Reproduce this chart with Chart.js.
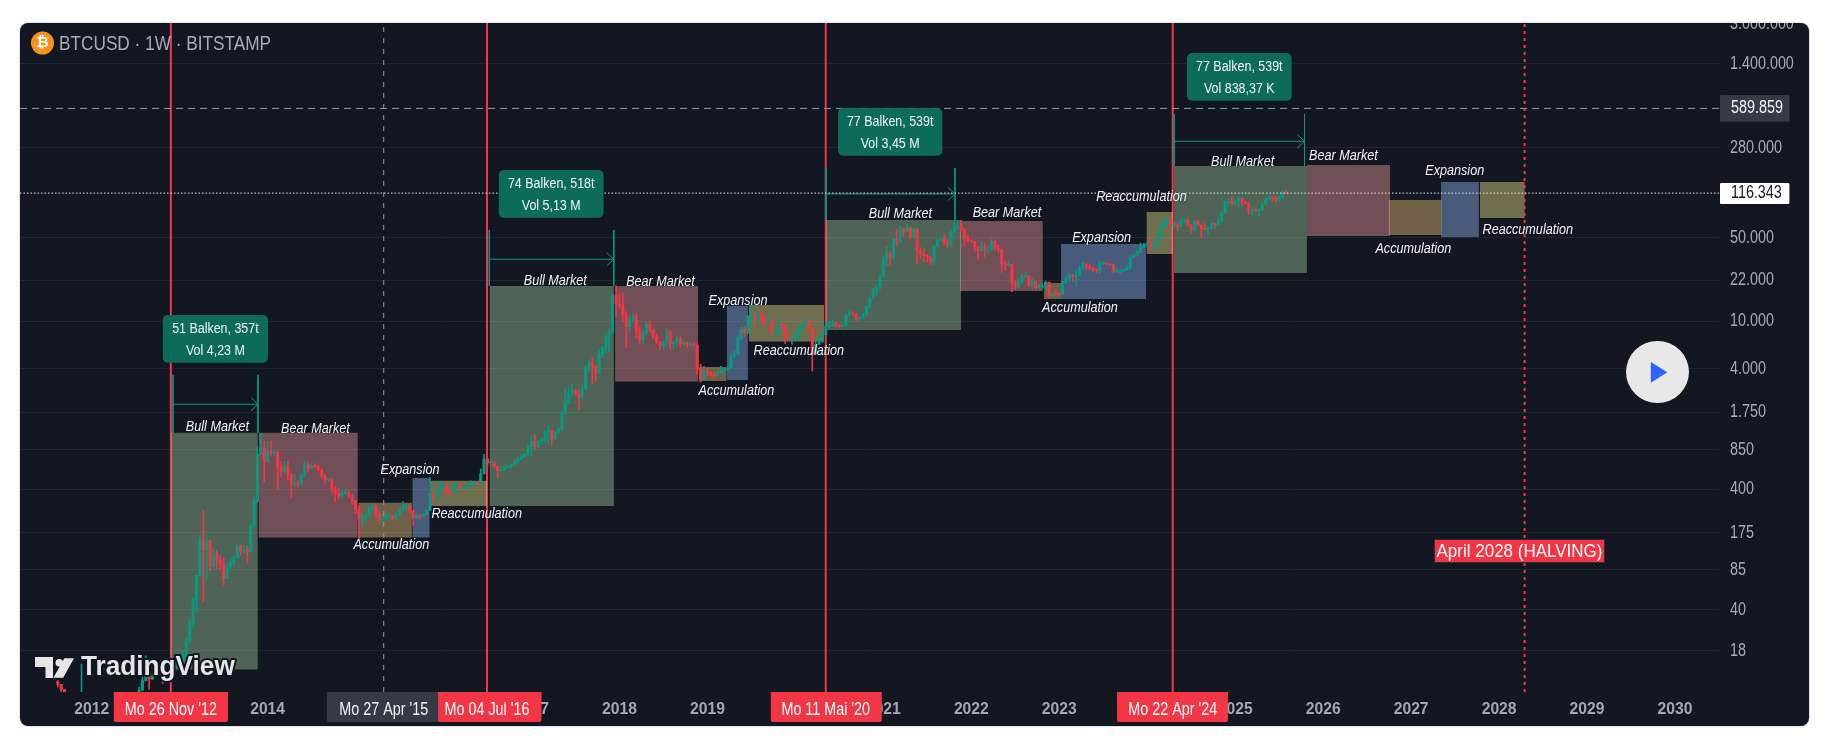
<!DOCTYPE html>
<html>
<head>
<meta charset="utf-8">
<title>BTCUSD 1W</title>
<style>
  html, body { margin: 0; padding: 0; background: #fff; }
  #wrap { position: relative; width: 1830px; height: 742px; }
</style>
<script src="https://cdn.jsdelivr.net/npm/chart.js@4/dist/chart.umd.min.js"></script>
</head>
<body>
<div id="wrap"><canvas id="c" width="1830" height="742"></canvas></div>
<script>
// Axis
var yearTicks = [2012,2013,2014,2015,2016,2017,2018,2019,2020,2021,2022,2023,2024,2025,2026,2027,2028,2029,2030];
var priceTicks = [3000000,1400000,280000,50000,22000,10000,4000,1750,850,400,175,85,40,18];
var xMin = 2011.185, xMax = 2030.5, yMin = 8.2, yMax = 3030000;

// Candles, two-week bars. One line per year.
var candleStart = 2011.615, candleStep = 1 / 26, candleFirstOpen = 10;
var candleClose = [
  9.5,8.6,7,7,7,7,7,7.4,7,7,
  6.8,6.4,5.9,4.8,5.0,5.0,4.9,5.0,5.1,5.0,5.1,5.5,6.4,6.7,8.5,10.2,12.2,10.5,11.2,12.3,11.8,10.9,10.9,12,12.8,13.4,
  14,17,22,30,48,76,150,125,148,92,112,102,94,72,90,97,107,135,122,125,120,198,320,780,880,680,
  820,800,810,600,560,620,530,440,450,440,520,640,600,630,620,580,510,480,480,400,370,350,370,375,350,320,
  270,225,235,235,270,290,250,225,225,240,240,225,245,270,285,290,265,230,240,235,245,265,370,330,395,430,
  430,385,375,435,440,415,415,425,455,455,445,535,715,660,665,620,570,575,610,610,640,660,715,745,775,900,
  1000,900,1010,1010,1190,1240,1040,1190,1260,1700,2060,2500,2620,2500,2300,2750,4100,4500,4200,3700,5400,6000,7400,8000,16500,14000,
  13500,11500,9000,10300,11000,8300,7000,8000,9300,8500,7400,6700,6200,6700,8200,6500,6700,7000,6500,6600,6300,6400,6300,4000,3300,3800,
  3700,3600,3500,3700,3850,3900,4100,5100,5300,7200,8600,8000,10800,11000,10500,11500,10300,9600,10300,8000,8200,9500,9200,7300,7200,7200,
  7200,8700,9300,10200,8700,5300,6400,6900,7700,9000,9200,9700,9300,9100,9200,11200,11800,11500,10400,10700,11300,13000,15500,18700,19200,23500,
  33000,36000,33500,48000,46000,58000,55000,60000,50000,58000,38000,36000,35000,34000,31000,42000,47500,49000,45000,43000,55000,61000,62000,58000,49000,47000,
  46000,42000,38500,42000,39000,39000,46000,40500,39500,30000,29500,29800,21000,19300,21500,23300,24000,20000,21500,19000,19200,19500,21000,16300,16900,16800,
  16600,20800,23000,24000,23500,24000,27500,30000,28800,27600,26800,26500,30300,30500,29800,29400,26000,26000,26000,26500,27800,34000,35000,37500,42000,43500,
  44000,41500,43000,50000,62000,68000,69500,63000,63500,61000,68000,69000,63000,57000,67500,63000,59000,58000,60000,65000,63000,68000,80000,97000,100000,94000,
  98000,104000,97000,96000,84000,84000,83000,84000,94000,103000,108000,105000,102000,108000,118000,116343
];
var candleHigh = [
  10.2,8.9,7.5,7.5,7.5,7.5,7.5,14,7.5,7.5,
  7.4,7.0,6.5,6.0,5.2,5.4,5.3,5.4,5.2,5.2,5.3,5.7,6.7,7.2,9,10.9,16.4,12.2,11.6,12.6,12.5,11.9,11,12.6,13.2,13.8,
  14.3,18,23,33,50,78,167,266,160,150,125,125,112,108,98,106,112,140,137,135,135,205,340,900,1163,1000,
  1000,1010,860,830,680,680,680,540,530,470,540,680,680,660,650,630,590,530,490,490,420,410,400,400,390,360,
  320,290,250,250,290,300,300,260,245,250,245,240,250,280,315,300,280,265,250,245,250,270,500,390,400,460,
  465,460,395,445,450,450,420,430,470,465,455,590,780,700,700,680,610,615,620,625,645,720,745,780,790,940,
  1100,1150,1020,1060,1230,1350,1200,1210,1280,1800,2700,2800,3000,2700,2700,2900,4300,4700,5000,4300,5800,6200,7700,8500,17000,19666,
  17000,17200,12000,11000,11700,11700,9000,8500,9900,10000,8600,7800,6800,6800,8500,8400,6800,7400,7400,6800,6700,6600,6600,6500,4400,4200,
  4100,3800,3700,3800,4200,4050,4200,5400,5650,7500,9000,9000,11200,13800,11500,12100,12300,10900,10900,10400,8500,10300,9500,9200,7700,7500,
  7700,9000,9600,10500,10000,8900,6950,7400,7900,10000,9900,10300,9800,9450,9500,11500,12400,12000,10900,10900,11700,13300,15900,18900,19800,24300,
  34700,41900,38500,49000,58000,61700,60000,64800,57000,59500,59000,41000,40000,36000,34500,42500,48000,50500,52900,48000,56500,66900,67800,69000,59000,52000,
  48000,44500,39000,45800,44500,42500,48200,47200,43000,40000,32000,32000,30000,21800,22500,24700,25200,21800,22700,20000,20500,20800,21500,21300,17400,18300,
  16900,21500,23800,25200,24500,26500,28800,30900,30000,29800,28400,27400,31400,31500,30400,30100,29700,28100,26800,27400,28500,35200,35900,38400,44700,44400,
  45800,48900,44000,52500,64000,73800,71500,72800,67000,65500,71900,72000,71000,63500,68300,70000,62000,65000,61000,66500,65000,73600,81500,99800,104000,108000,
  102500,110000,106500,99500,96000,91000,88500,86000,95500,105000,112000,110500,108500,110500,123000,123200
];
var candleLow = [
  9,8.3,6.8,6.8,6.8,6.8,6.8,7,6.8,6.8,
  6.3,6.0,5.5,4.4,4.7,4.8,4.7,4.8,4.9,4.8,5,5.1,5.4,6.3,6.6,8.4,10.2,8.6,10.4,11,11.3,9.6,10.5,10.8,12.1,12.7,
  13,13.8,16,21,28,38,75,46,70,84,88,87,85,64,72,88,95,106,112,118,97,120,190,310,780,460,
  680,760,760,400,510,540,480,340,420,420,430,510,550,590,600,570,490,440,460,370,310,330,335,360,340,300,
  250,155,195,210,235,265,235,215,210,225,230,220,222,240,265,265,255,200,225,225,235,245,270,310,320,390,
  420,355,360,370,415,405,400,410,420,440,435,445,535,610,640,600,500,560,570,600,600,630,680,710,735,760,
  750,870,890,960,1000,950,930,1040,1170,1240,1700,2100,2350,2400,1830,2200,2700,3800,3000,3200,3600,5000,5500,5500,8000,10800,
  12800,10000,6000,8100,9800,7300,6400,6500,7800,8100,7100,6500,5800,5800,6300,5900,5900,6300,6100,6300,6000,6200,6200,3600,3100,3200,
  3500,3500,3350,3600,3700,3700,3850,4050,5000,5300,7000,7400,7900,9600,9200,9100,9500,9300,9500,7700,7700,7300,8500,6500,7000,6400,
  6900,7100,8300,9200,8500,3850,5900,6400,6600,7700,8700,9000,8900,8900,9000,9100,11000,11100,10000,10200,10600,11200,13000,15200,16200,18300,
  23500,28900,29200,32500,43000,44900,50400,55500,47000,48000,30000,33000,31000,31000,29300,29500,42800,46500,43000,40700,41500,55000,58000,55700,42000,45500,
  45500,38000,33000,38000,34500,37000,38500,39000,37500,25400,26500,28500,17600,18600,18900,20700,23000,19500,18500,18200,18200,18700,18000,15500,15900,16300,
  16300,16500,20500,21500,21500,19500,26600,27800,27000,26800,25800,25300,25000,29700,29500,28900,25300,25400,24900,26000,26600,26800,33900,34800,37600,40500,
  41500,38500,38500,42500,50500,60800,61500,60800,59600,56500,60800,66500,62000,53500,56000,62300,49000,57500,52500,58500,58900,62500,66800,80000,90500,92200,
  91500,89000,91000,93500,78200,76600,81500,74500,83200,93500,102500,100500,98000,99000,105000,114000
];

// Market phase boxes
var zoneKind   = ['bull','bear','acc','exp','re','bull','bear','acc','exp','re','bull','bear','acc','exp','re','bull','bear','acc','exp','re'];
var zoneStart  = [2012.90,2013.90,2015.033,2015.648,2015.851,2016.525,2017.95,2018.902,2019.222,2019.472,2020.348,2021.872,2022.827,2023.02,2023.994,2024.305,2025.815,2026.746,2027.34,2027.783];
var zoneEnd    = [2013.887,2015.024,2015.64,2015.841,2016.494,2017.936,2018.893,2019.217,2019.46,2020.325,2021.883,2022.812,2023.02,2023.986,2024.29,2025.815,2026.76,2027.346,2027.77,2028.29];
var zoneTop    = [1176,1176,307.6,496,469,19630,19630,4160,13460,13650,69500,68200,20800,43950,81100,195800,199500,102000,144000,144000];
var zoneBottom = [12.6,158,158,158,290,290,3140,3184,3245,6760,8450,17860,15310,15310,36200,25180,51200,52200,50200,72300];

// Measure tools: bars span and the arrow height
var measureStart  = [2012.924,2016.52,2020.348,2024.305];
var measureEnd    = [2013.891,2017.936,2021.815,2025.788];
var measureTop    = [3573,57400,188400,530000];
var measureBottom = [1176,19630,69500,195800];
var measureArrow  = [2037,32750,114500,314000];
var measureLine1  = ['51 Balken, 357t','74 Balken, 518t','77 Balken, 539t','77 Balken, 539t'];
var measureLine2  = ['Vol 4,23 M','Vol 5,13 M','Vol 3,45 M','Vol 838,37 K'];

// Verticals and levels
var halvingYears = [2012.9,2016.494,2020.345,2024.29];
var halvingLabels = ["Mo 26 Nov '12","Mo 04 Jul '16","Mo 11 Mai '20","Mo 22 Apr '24"];
var crossYear = 2015.32, crossLabel = "Mo 27 Apr '15";
var nextHalvingYear = 2028.29, nextHalvingLabel = 'April 2028 (HALVING)';
var crossPrice = 589859, lastPrice = 116343;

var zoneColors = {
  bull: 'rgba(171,218,164,0.4)',
  bear: 'rgba(254,165,164,0.4)',
  acc:  'rgba(254,208,129,0.4)',
  exp:  'rgba(152,195,254,0.4)',
  re:   'rgba(251,246,149,0.4)'
};
var RED = '#f23645', GREEN = '#089981', PANEL = '#131722', TEAL = '#0d6b5c';
var SANS = '"Liberation Sans", sans-serif';
var NARROW = 0.82; // no condensed face here, so text is squeezed when drawn

function fmtPrice(v) {
  return String(v).replace(/\B(?=(\d{3})+(?!\d))/g, '.');
}

function pathSet(points, color, width, dash, order) {
  return {
    type: 'line', data: points, borderColor: color, borderWidth: width,
    borderDash: dash || [], pointRadius: 0, fill: false, tension: 0, order: order
  };
}

var datasets = [];

// halving verticals sit under the boxes
halvingYears.forEach(function (t) {
  datasets.push(pathSet([{ x: t, y: yMin }, { x: t, y: yMax }], RED, 2, null, 9));
});

zoneStart.forEach(function (s, i) {
  datasets.push({
    type: 'line',
    data: [
      { x: s, y: zoneTop[i] }, { x: zoneEnd[i], y: zoneTop[i] },
      { x: zoneEnd[i], y: zoneBottom[i] }, { x: s, y: zoneBottom[i] }
    ],
    borderWidth: 0, pointRadius: 0, tension: 0,
    backgroundColor: zoneColors[zoneKind[i]], fill: 'shape', order: 7
  });
});

// Candles as floating bars, wick then body.
// Bars under the axis floor are skipped: minBarLength would pin them to the bottom edge.
var wicks = [], wickColors = [], bodies = [], bodyColors = [];
candleClose.forEach(function (c, i) {
  var t = candleStart + i * candleStep;
  var o = i === 0 ? candleFirstOpen : candleClose[i - 1];
  var color = c >= o ? GREEN : RED;
  if (candleHigh[i] >= yMin) {
    wicks.push({ x: t, y: [candleLow[i], candleHigh[i]] });
    wickColors.push(color);
  }
  if (Math.max(o, c) >= yMin) {
    bodies.push({ x: t, y: [o, c] });
    bodyColors.push(color);
  }
});
datasets.push({ type: 'bar', data: wicks, backgroundColor: wickColors, barThickness: 1, grouped: false, order: 5 });
datasets.push({ type: 'bar', data: bodies, backgroundColor: bodyColors, barThickness: 2.4, minBarLength: 1, grouped: false, order: 4 });

measureStart.forEach(function (s, i) {
  var e = measureEnd[i];
  datasets.push(pathSet([{ x: s, y: measureTop[i] }, { x: s, y: measureBottom[i] }], GREEN, 1, null, 3));
  datasets.push(pathSet([{ x: e, y: measureTop[i] }, { x: e, y: measureBottom[i] }], GREEN, 1, null, 3));
  datasets.push(pathSet([{ x: s, y: measureArrow[i] }, { x: e, y: measureArrow[i] }], GREEN, 1, null, 3));
});

datasets.push(pathSet([{ x: crossYear, y: yMin }, { x: crossYear, y: yMax }], '#9598a1', 1, [5, 6], 2));
datasets.push(pathSet([{ x: xMin, y: crossPrice }, { x: xMax, y: crossPrice }], '#9598a1', 1, [7, 5], 2));
datasets.push(pathSet([{ x: xMin, y: lastPrice }, { x: xMax, y: lastPrice }], '#e8e8ea', 1, [1.5, 2], 2));
datasets.push(pathSet([{ x: nextHalvingYear, y: yMin }, { x: nextHalvingYear, y: yMax }], RED, 2, [3, 4], 2));

function put(ctx, str, x, y, font, color, align, squeeze) {
  ctx.save();
  ctx.translate(x, y);
  ctx.scale(squeeze || NARROW, 1);
  ctx.font = font;
  ctx.fillStyle = color;
  ctx.textAlign = align || 'center';
  ctx.textBaseline = 'middle';
  ctx.fillText(str, 0, 0);
  ctx.restore();
}

function box(ctx, x0, y0, x1, y1, color, r) {
  ctx.fillStyle = color;
  ctx.beginPath();
  ctx.roundRect(x0, y0, x1 - x0, y1 - y0, r || 0);
  ctx.fill();
}

var panelPlugin = {
  id: 'panel',
  beforeDraw: function (chart) {
    var ctx = chart.ctx;
    ctx.save();
    ctx.fillStyle = '#fff';
    ctx.fillRect(0, 0, 1830, 742);
    box(ctx, 19, 22, 1810, 727, '#e0e3eb', 9);
    box(ctx, 20, 23, 1809, 726, PANEL, 8);
    ctx.restore();
  }
};

// Phase label positions on the page
var phaseLabels = [
  ['Bull Market',217.4,426.7],['Bear Market',315.4,428.7],['Expansion',410,469.7],['Accumulation',391.3,544.7],['Reaccumulation',476.7,513.7],
  ['Bull Market',555.3,280.3],['Bear Market',660.5,281.7],['Expansion',738,300.7],['Reaccumulation',798.8,350.7],['Accumulation',736.4,390.7],
  ['Bull Market',900.4,213.3],['Bear Market',1007,212.3],['Accumulation',1080,307.7],['Expansion',1101.6,237.7],['Reaccumulation',1141.5,196.7],
  ['Bull Market',1242.6,161.7],['Bear Market',1343.4,155.7],['Expansion',1454.7,170.7],['Reaccumulation',1527.8,229.7],['Accumulation',1413.3,248.7]
];
var statBoxes = [[162.8,315,268,362.7],[498.8,170,603.6,217.7],[838,108,942.3,155.7],[1187,53,1291.6,100.7]];
var halvingBoxes = [[113.8,228],[438,541.5],[770.8,881.8],[1117,1228]];

var overlayPlugin = {
  id: 'overlay',
  afterDraw: function (chart) {
    var ctx = chart.ctx, xs = chart.scales.x, ys = chart.scales.y;
    ctx.save();

    // axis tick labels, squeezed like the rest of the text
    ys.ticks.forEach(function (t) {
      put(ctx, fmtPrice(t.value), 1730, ys.getPixelForValue(t.value) + 0.5, '17.5px ' + SANS, '#a9acb5', 'left');
    });
    xs.ticks.forEach(function (t) {
      put(ctx, String(t.value), xs.getPixelForValue(t.value), 709.5, 'bold 16.5px ' + SANS, '#a5a8b2', 'center', 0.95);
    });

    // hide the part of the top tick that runs off the panel
    ctx.fillStyle = '#fff';
    ctx.fillRect(1500, 0, 300, 22);
    ctx.fillStyle = '#e0e3eb';
    ctx.fillRect(1500, 22, 300, 1);

    // arrow heads on the measure tools
    ctx.strokeStyle = GREEN;
    ctx.lineWidth = 1;
    measureEnd.forEach(function (e, i) {
      var px = xs.getPixelForValue(e), py = ys.getPixelForValue(measureArrow[i]);
      ctx.beginPath();
      ctx.moveTo(px - 7, py - 6.5);
      ctx.lineTo(px, py);
      ctx.lineTo(px - 7, py + 6.5);
      ctx.stroke();
    });

    statBoxes.forEach(function (b, i) {
      box(ctx, b[0], b[1], b[2], b[3], TEAL, 5);
      var cx = (b[0] + b[2]) / 2;
      put(ctx, measureLine1[i], cx, b[1] + 13.5, '15.2px ' + SANS, '#f0f3fa');
      put(ctx, measureLine2[i], cx, b[1] + 35.5, '15.2px ' + SANS, '#f0f3fa');
    });

    phaseLabels.forEach(function (l) {
      ctx.shadowColor = 'rgba(19,23,34,0.8)';
      ctx.shadowBlur = 2;
      put(ctx, l[0], l[1], l[2], 'italic 15.4px ' + SANS, '#f4f4f6');
      ctx.shadowBlur = 0;
    });

    // symbol line
    ctx.fillStyle = '#f7931a';
    ctx.beginPath();
    ctx.arc(42.5, 43, 11.5, 0, Math.PI * 2);
    ctx.fill();
    put(ctx, '\u20BF', 42.5, 43.5, 'bold 15px "DejaVu Sans", sans-serif', '#fff', 'center', 1);
    put(ctx, 'BTCUSD \u00B7 1W \u00B7 BITSTAMP', 59, 44, '21px ' + SANS, '#a9acb5', 'left');

    // halving note
    box(ctx, 1434, 539, 1605, 563, '#2a2e39');
    box(ctx, 1435, 540, 1604, 562, RED);
    put(ctx, nextHalvingLabel, 1519.5, 551.5, '19px ' + SANS, '#fff', 'center', 0.895);

    // play button
    ctx.fillStyle = '#e8e8e8';
    ctx.beginPath();
    ctx.ellipse(1657.5, 372, 31.5, 31, 0, 0, Math.PI * 2);
    ctx.fill();
    ctx.fillStyle = '#2962ff';
    ctx.beginPath();
    ctx.moveTo(1650.8, 362);
    ctx.lineTo(1667.3, 372.3);
    ctx.lineTo(1650.8, 382.7);
    ctx.closePath();
    ctx.fill();

    // watermark
    ctx.lineJoin = 'round';
    ctx.strokeStyle = '#131722';
    ctx.lineWidth = 4;
    ctx.fillStyle = '#e6e6e6';
    var logo = new Path2D('M35 657H53V678H45.5V667H35Z M64.4 658.3H74L63.2 677.7H53.4Z M63.1 662.7A3.8 3.8 0 1 1 55.5 662.7A3.8 3.8 0 1 1 63.1 662.7Z');
    ctx.stroke(logo);
    ctx.fill(logo);
    ctx.save();
    ctx.translate(81, 668);
    ctx.scale(0.97, 1);
    ctx.font = 'bold 27px ' + SANS;
    ctx.textAlign = 'left';
    ctx.textBaseline = 'middle';
    ctx.strokeText('TradingView', 0, 0);
    ctx.fillText('TradingView', 0, 0);
    ctx.restore();

    // time axis tags
    halvingYears.forEach(function (t, i) {
      if (i === 1) return;
      box(ctx, halvingBoxes[i][0], 692, halvingBoxes[i][1], 722, RED, [0, 0, 2, 2]);
      put(ctx, halvingLabels[i], xs.getPixelForValue(t), 710, '17.5px ' + SANS, '#fff');
    });
    box(ctx, 326.9, 692, 440, 722, '#363a45', [0, 0, 2, 2]);
    put(ctx, crossLabel, xs.getPixelForValue(crossYear), 710, '17.5px ' + SANS, '#f0f3fa');
    box(ctx, halvingBoxes[1][0], 692, halvingBoxes[1][1], 722, RED, [0, 0, 2, 2]);
    put(ctx, halvingLabels[1], xs.getPixelForValue(halvingYears[1]), 710, '17.5px ' + SANS, '#fff');

    // price axis tags
    box(ctx, 1720, 95, 1789.4, 121.7, '#363a45', 1);
    put(ctx, fmtPrice(crossPrice), 1731, 108.5, '17.5px ' + SANS, '#f0f3fa', 'left');
    box(ctx, 1720, 183, 1789.4, 204, '#fff', 1);
    put(ctx, fmtPrice(lastPrice), 1731, 193.5, '17.5px ' + SANS, '#131722', 'left');

    ctx.restore();
  }
};

new Chart(document.getElementById('c'), {
  type: 'bar',
  data: { datasets: datasets },
  plugins: [panelPlugin, overlayPlugin],
  options: {
    responsive: false,
    animation: false,
    events: [],
    layout: { padding: { left: 20, top: 23, right: 0, bottom: 0 } },
    plugins: { legend: { display: false }, tooltip: { enabled: false } },
    scales: {
      x: {
        type: 'linear', min: xMin, max: xMax, offset: false,
        grid: { display: false }, border: { display: false },
        afterBuildTicks: function (scale) {
          scale.ticks = yearTicks.map(function (v) { return { value: v }; });
        },
        afterFit: function (scale) { scale.height = 50; },
        ticks: { display: false, autoSkip: false }
      },
      y: {
        type: 'logarithmic', position: 'right', min: yMin, max: yMax,
        grid: {
          lineWidth: 1, drawTicks: false,
          color: function (c) { return c.tick && c.tick.value === 3000000 ? 'transparent' : '#20252f'; }
        },
        border: { display: false },
        afterBuildTicks: function (scale) {
          scale.ticks = priceTicks.map(function (v) { return { value: v }; });
        },
        afterFit: function (scale) { scale.width = 111; },
        ticks: { display: false, autoSkip: false }
      }
    }
  }
});
</script>
</body>
</html>
